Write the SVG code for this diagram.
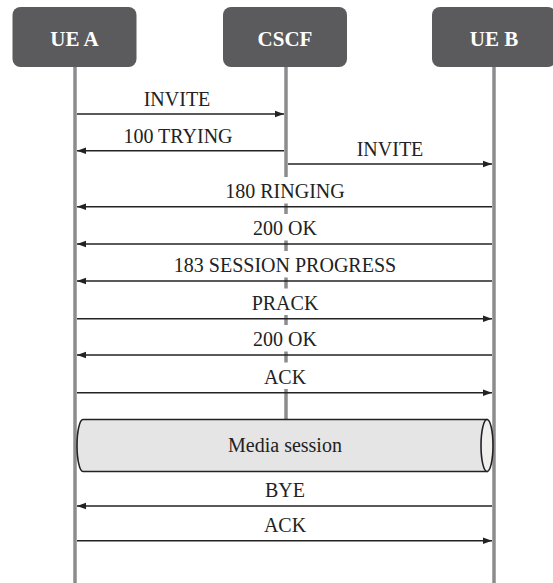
<svg xmlns="http://www.w3.org/2000/svg" width="553" height="583" viewBox="0 0 553 583">
<style>
.box{fill:#5b5b5d;}
.hdr{font-family:'Liberation Serif','Times New Roman',serif;font-weight:bold;font-size:21px;fill:#ffffff;text-anchor:middle;}
.life{stroke:#8c8c8e;stroke-width:3.5;fill:none;}
.msg{stroke:#222222;stroke-width:1.6;fill:none;}
.lbl{font-family:'Liberation Serif','Times New Roman',serif;font-size:20px;fill:#222222;text-anchor:middle;}
.mask{fill:#ffffff;}
</style>
<defs>
<marker id="ah" markerUnits="userSpaceOnUse" markerWidth="10" markerHeight="8" refX="9" refY="4" orient="auto">
<path d="M0,0.8 L9,4 L0,7.2 Z" fill="#222222"/>
</marker>
</defs>
<g id="lifelines">
<line class="life" x1="75" y1="60" x2="75" y2="583"/>
<line class="life" x1="286" y1="60" x2="286" y2="419"/>
<line class="life" x1="494" y1="60" x2="494" y2="583"/>
</g>
<g id="ue-a">
<rect class="box" x="12.5" y="7" width="124" height="60" rx="8"/>
<text class="hdr" x="74.5" y="45.5">UE A</text>
</g>
<g id="cscf">
<rect class="box" x="223" y="7" width="124" height="60" rx="8"/>
<text class="hdr" x="285" y="45.5">CSCF</text>
</g>
<g id="ue-b">
<rect class="box" x="432" y="7" width="124" height="60" rx="8"/>
<text class="hdr" x="494" y="45.5">UE B</text>
</g>
<g id="labels">
<text class="lbl" x="177" y="106">INVITE</text>
<text class="lbl" x="178" y="142.5">100 TRYING</text>
<text class="lbl" x="390" y="156">INVITE</text>
<rect class="mask" x="225" y="177" width="120" height="26.5"/>
<text class="lbl" x="285" y="198">180 RINGING</text>
<rect class="mask" x="250" y="214" width="70" height="26.5"/>
<text class="lbl" x="285" y="235">200 OK</text>
<rect class="mask" x="166" y="251" width="238" height="26.5"/>
<text class="lbl" x="285" y="272">183 SESSION PROGRESS</text>
<rect class="mask" x="248" y="288.5" width="74" height="26.5"/>
<text class="lbl" x="285" y="309.5">PRACK</text>
<rect class="mask" x="250" y="325" width="70" height="26.5"/>
<text class="lbl" x="285" y="346">200 OK</text>
<rect class="mask" x="255" y="362.5" width="60" height="26.5"/>
<text class="lbl" x="285" y="383.5">ACK</text>
<text class="lbl" x="285" y="497">BYE</text>
<text class="lbl" x="285" y="532">ACK</text>
</g>
<g id="connectors">
<line class="msg" x1="77" y1="114" x2="284" y2="114" marker-end="url(#ah)"/>
<line class="msg" x1="284" y1="150.7" x2="77" y2="150.7" marker-end="url(#ah)"/>
<line class="msg" x1="288" y1="164" x2="492" y2="164" marker-end="url(#ah)"/>
<line class="msg" x1="492" y1="206.7" x2="77" y2="206.7" marker-end="url(#ah)"/>
<line class="msg" x1="492" y1="244" x2="77" y2="244" marker-end="url(#ah)"/>
<line class="msg" x1="492" y1="281" x2="77" y2="281" marker-end="url(#ah)"/>
<line class="msg" x1="77" y1="318.7" x2="492" y2="318.7" marker-end="url(#ah)"/>
<line class="msg" x1="492" y1="355" x2="77" y2="355" marker-end="url(#ah)"/>
<line class="msg" x1="77" y1="392.7" x2="492" y2="392.7" marker-end="url(#ah)"/>
<line class="msg" x1="492" y1="506" x2="77" y2="506" marker-end="url(#ah)"/>
<line class="msg" x1="77" y1="540.7" x2="492" y2="540.7" marker-end="url(#ah)"/>
</g>
<g id="media-session">
<path d="M83,419.5 L487,419.5 L487,471.5 L83,471.5 A6,26 0 0 1 83,419.5 Z" fill="#e5e5e5" stroke="#222222" stroke-width="1.6"/>
<ellipse cx="487" cy="445.5" rx="6" ry="26" fill="#f0efee" stroke="#222222" stroke-width="1.6"/>
<text class="lbl" x="285" y="451.5">Media session</text>
</g>
</svg>
